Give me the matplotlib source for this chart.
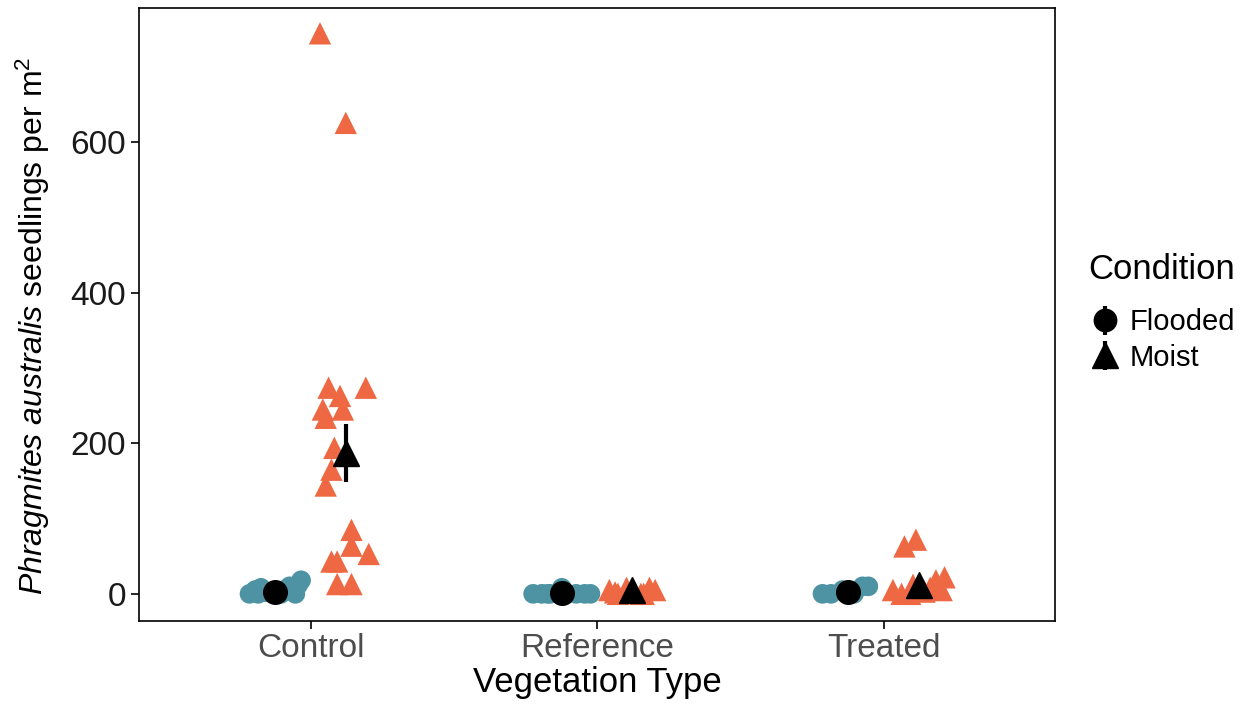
import numpy as np
import matplotlib.pyplot as plt

plt.rcParams['font.family'] = ['Liberation Sans', 'DejaVu Sans']
plt.rcParams['mathtext.fontset'] = 'custom'
plt.rcParams['mathtext.rm'] = 'Liberation Sans'
plt.rcParams['mathtext.it'] = 'Liberation Sans:italic'

categories = ['Control', 'Reference', 'Treated']
conditions = ['Flooded', 'Moist']

# raw observations, (jitter offset in category units, value)
control_flooded_x = [-0.09, -0.07, -0.05, -0.03, 0.0, 0.03, 0.05, 0.07, 0.09, -0.06, 0.02, 0.08]
control_flooded_y = [0, 5, 8, 2, 0, 5, 10, 0, 18, 0, 0, 12]
control_moist_x = [-0.09, 0.0, -0.06, 0.07, -0.02, -0.08, -0.01, -0.07, -0.04, -0.05, -0.07,
                   0.02, 0.02, 0.08, -0.05, -0.03, -0.03, 0.02]
control_moist_y = [745, 626, 274, 274, 263, 245, 245, 234, 194, 165, 144,
                   85, 64, 53, 43, 43, 13, 13]
reference_flooded_x = [-0.1, -0.07, -0.04, -0.01, 0.02, 0.05, 0.08, 0.1, 0.0, -0.05]
reference_flooded_y = [0, 0, 0, 0, 0, 0, 0, 0, 8, 0]
reference_moist_x = [-0.08, -0.05, -0.02, 0.0, 0.03, 0.06, 0.08, -0.06, 0.04]
reference_moist_y = [5, 0, 8, 3, 0, 8, 5, 2, 0]
treated_flooded_x = [-0.09, -0.06, -0.02, 0.02, 0.05, 0.07, 0.0]
treated_flooded_y = [0, 0, 5, 0, 10, 10, 0]
treated_moist_x = [-0.05, -0.01, -0.09, -0.06, -0.02, 0.02, 0.06, 0.09, 0.08, -0.03, 0.04]
treated_moist_y = [63, 72, 5, 0, 12, 3, 18, 22, 5, 0, 8]

flooded_x = [control_flooded_x, reference_flooded_x, treated_flooded_x]
flooded_y = [control_flooded_y, reference_flooded_y, treated_flooded_y]
moist_x = [control_moist_x, reference_moist_x, treated_moist_x]
moist_y = [control_moist_y, reference_moist_y, treated_moist_y]

# mean and standard error per group
flooded_mean = [3, 0.5, 2]
flooded_se = [2, 0.8, 1.5]
moist_mean = [187, 5, 12]
moist_se = [39, 1.5, 5]

blue = '#4D93A3'
orange = '#EE6943'
dodge = 0.123

fig = plt.figure(figsize=(12.49, 7.04), dpi=100)
ax = fig.add_axes([0.111, 0.118, 0.734, 0.871])

pos = np.arange(1, len(categories) + 1)
for i in range(len(categories)):
    ax.scatter(pos[i] - dodge + np.array(flooded_x[i]), flooded_y[i], s=200, marker='o',
               color=blue, edgecolors='none', zorder=2)
    ax.scatter(pos[i] + dodge + np.array(moist_x[i]), moist_y[i], s=260, marker='^',
               color=orange, edgecolors='none', zorder=2)

ax.errorbar(pos - dodge, flooded_mean, yerr=flooded_se, fmt='o', color='black',
            ms=17, elinewidth=3, capsize=0, zorder=3, label='Flooded')
ax.errorbar(pos + dodge, moist_mean, yerr=moist_se, fmt='^', color='black',
            ms=19, elinewidth=3, capsize=0, zorder=3, label='Moist')

ax.set_xlim(0.4, 3.6)
ax.set_ylim(-36, 779)
ax.set_xticks(pos)
ax.set_xticklabels(categories)
ax.set_yticks([0, 200, 400, 600])
ax.tick_params(axis='x', labelsize=24, labelcolor='#4D4D4D', length=6, width=1.2, pad=3)
ax.tick_params(axis='y', labelsize=24, labelcolor='#1A1A1A', length=6, width=1.2, pad=3)
for sp in ax.spines.values():
    sp.set_linewidth(1.2)

ax.set_xlabel('Vegetation Type', fontsize=25, labelpad=1)
ax.set_ylabel(r'$\it{Phragmites\ australis}$ seedlings per m$^2$', fontsize=23)
ax.yaxis.set_label_coords(-0.094, 0.481)

fig.text(0.871, 0.6165, 'Condition', fontsize=25, va='center', ha='left')
leg = ax.legend(loc='center left', bbox_to_anchor=(0.874, 0.517),
                bbox_transform=fig.transFigure, frameon=False, fontsize=21,
                handlelength=0.9, handletextpad=0.4, labelspacing=0.25,
                borderpad=0, borderaxespad=0, markerscale=0.95)

plt.savefig('out.png', dpi=100)
